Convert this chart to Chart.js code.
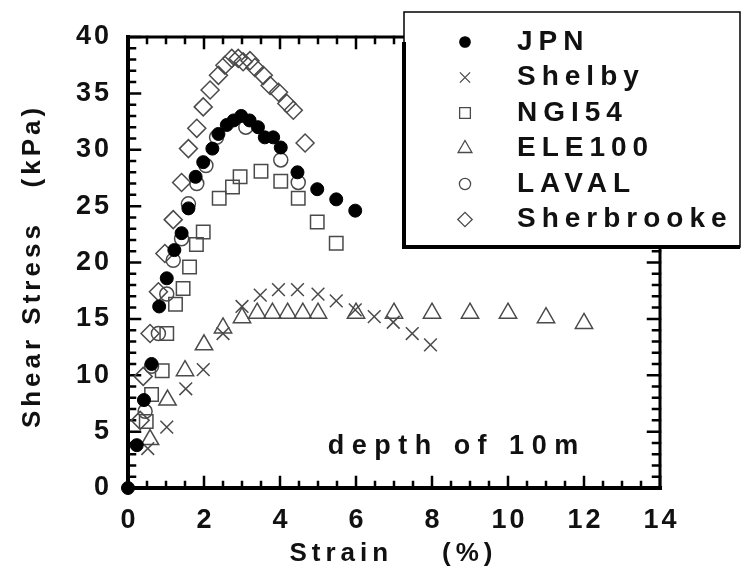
<!DOCTYPE html>
<html>
<head>
<meta charset="utf-8">
<script src="https://cdn.jsdelivr.net/npm/chart.js@4"></script>
<style>
  html, body { margin: 0; padding: 0; background: #fff; }
  #wrap { width: 742px; height: 575px; }
</style>
</head>
<body>
<div id="wrap"><canvas id="chart" width="742" height="575"></canvas></div>
<script>
// values (strain %, shear stress kPa)
const jpnStrain = [0, 0.23, 0.42, 0.62, 0.82, 1.02, 1.22, 1.41, 1.59, 1.78, 1.98, 2.22, 2.38, 2.6, 2.78, 2.98, 3.2, 3.42, 3.6, 3.82, 4.02, 4.46, 4.98, 5.48, 5.98];
const jpnStress = [0, 3.8, 7.8, 11.0, 16.1, 18.6, 21.1, 22.6, 24.8, 27.6, 28.9, 30.1, 31.4, 32.2, 32.6, 33.0, 32.6, 32.0, 31.1, 31.1, 30.2, 28.0, 26.5, 25.6, 24.6];

const shelbyStrain = [0.52, 1.02, 1.52, 1.98, 2.5, 3.0, 3.48, 3.96, 4.46, 5.0, 5.48, 5.98, 6.48, 6.98, 7.48, 7.96];
const shelbyStress = [3.5, 5.4, 8.8, 10.5, 13.7, 16.1, 17.1, 17.6, 17.6, 17.2, 16.6, 15.8, 15.2, 14.7, 13.7, 12.7];

const ngiStrain = [0.48, 0.62, 0.9, 1.02, 1.25, 1.45, 1.62, 1.8, 1.98, 2.4, 2.75, 2.95, 3.5, 4.02, 4.48, 4.98, 5.48];
const ngiStress = [5.9, 8.3, 10.4, 13.7, 16.3, 17.7, 19.6, 21.6, 22.7, 25.7, 26.7, 27.6, 28.1, 27.2, 25.7, 23.6, 21.7];

const eleStrain = [0.58, 1.04, 1.5, 2.0, 2.5, 3.0, 3.4, 3.8, 4.2, 4.6, 5.0, 6.0, 7.0, 8.0, 9.0, 10.0, 11.0, 12.0];
const eleStress = [4.3, 7.8, 10.4, 12.7, 14.2, 15.1, 15.5, 15.5, 15.5, 15.5, 15.5, 15.5, 15.5, 15.5, 15.5, 15.5, 15.1, 14.6];

const lavalStrain = [0.45, 0.62, 0.8, 1.02, 1.19, 1.41, 1.59, 1.81, 2.05, 2.33, 3.1, 4.02, 4.48];
const lavalStress = [6.8, 10.8, 13.7, 17.2, 20.2, 22.1, 25.2, 27.0, 28.6, 31.1, 32.0, 29.1, 27.1];

const sherStrain = [0.32, 0.4, 0.58, 0.8, 0.97, 1.19, 1.41, 1.59, 1.81, 1.98, 2.16, 2.38, 2.55, 2.73, 2.9, 3.03, 3.21, 3.34, 3.56, 3.74, 3.96, 4.18, 4.35, 4.66];
const sherStress = [6.0, 9.9, 13.7, 17.4, 20.8, 23.8, 27.1, 30.1, 31.9, 33.8, 35.3, 36.6, 37.5, 38.1, 38.1, 37.8, 37.9, 37.3, 36.6, 35.7, 35.1, 34.1, 33.5, 30.6];

const seriesNames = ['JPN', 'Shelby', 'NGI54', 'ELE100', 'LAVAL', 'Sherbrooke'];
const xTickLabels = ['0', '2', '4', '6', '8', '10', '12', '14'];
const yTickLabels = ['0', '5', '10', '15', '20', '25', '30', '35', '40'];

const FONT = "'Liberation Sans', 'DejaVu Sans', sans-serif";
const GREY = '#4a4a4a';

function pts(xs, ys) {
    return xs.map((x, i) => ({x: x, y: ys[i]}));
}

function spacedText(ctx, text, x, y, font, spacing, align) {
    ctx.save();
    ctx.font = font;
    ctx.letterSpacing = spacing + 'px';
    ctx.fillStyle = '#111';
    ctx.textBaseline = 'middle';
    let w = ctx.measureText(text).width - spacing;
    let sx = x;
    if (align === 'center') sx = x - w / 2;
    if (align === 'right') sx = x - w;
    ctx.textAlign = 'left';
    ctx.fillText(text, sx, y);
    ctx.restore();
}

// frame, inward ticks, tick labels and axis titles
const framePlugin = {
    id: 'frame',
    beforeDatasetsDraw(chart) {
        const ctx = chart.ctx;
        const a = chart.chartArea;
        const xs = chart.scales.x, ys = chart.scales.y;
        ctx.save();
        ctx.strokeStyle = '#000';
        ctx.lineCap = 'square';

        ctx.lineWidth = 2.5;
        for (let v = 0; v <= 14.001; v += 0.5) {
            const px = xs.getPixelForValue(v);
            const len = (Math.abs(v / 2 - Math.round(v / 2)) < 1e-6) ? 11 : 6;
            ctx.beginPath();
            ctx.moveTo(px, a.bottom); ctx.lineTo(px, a.bottom - len);
            ctx.moveTo(px, a.top); ctx.lineTo(px, a.top + len);
            ctx.stroke();
        }
        for (let v = 0; v <= 40.001; v += 1) {
            const py = ys.getPixelForValue(v);
            const len = (v % 5 === 0) ? 12 : 7;
            ctx.beginPath();
            ctx.moveTo(a.left, py); ctx.lineTo(a.left + len, py);
            ctx.moveTo(a.right, py); ctx.lineTo(a.right - len, py);
            ctx.stroke();
        }

        ctx.lineWidth = 3;
        ctx.beginPath();
        ctx.moveTo(a.left, a.top); ctx.lineTo(a.right, a.top);
        ctx.lineTo(a.right, a.bottom);
        ctx.stroke();
        ctx.lineWidth = 4;
        ctx.beginPath();
        ctx.moveTo(a.left, a.top); ctx.lineTo(a.left, a.bottom);
        ctx.lineTo(a.right, a.bottom);
        ctx.stroke();
        ctx.restore();

        const tickFont = 'bold 27px ' + FONT;
        xTickLabels.forEach(t => {
            spacedText(ctx, t, xs.getPixelForValue(Number(t)), a.bottom + 33, tickFont, 3, 'center');
        });
        yTickLabels.forEach(t => {
            spacedText(ctx, t, a.left - 19, ys.getPixelForValue(Number(t)), tickFont, 3, 'right');
        });

        const titleFont = 'bold 26px ' + FONT;
        spacedText(ctx, 'Strain    (%)', (a.left + a.right) / 2 - 3, a.bottom + 66, titleFont, 5, 'center');
        ctx.save();
        ctx.translate(33, 268);
        ctx.rotate(-Math.PI / 2);
        spacedText(ctx, 'Shear Stress   (kPa)', 0, 0, titleFont, 4, 'center');
        ctx.restore();

        spacedText(ctx, 'depth of 10m', xs.getPixelForValue(8.55), ys.getPixelForValue(3.7), 'bold 27px ' + FONT, 7.5, 'center');
    }
};

// boxed legend laid over the upper right corner of the plot
const legendPlugin = {
    id: 'boxLegend',
    afterDraw(chart) {
        const ctx = chart.ctx;
        const bx = 404, by = 12, bw = 336, bh = 235;
        ctx.save();
        ctx.fillStyle = '#fff';
        ctx.fillRect(bx, by, bw, bh);
        ctx.strokeStyle = '#000';
        ctx.lineWidth = 1.5;
        ctx.strokeRect(bx, by, bw, bh);
        ctx.lineWidth = 4;
        ctx.beginPath();
        ctx.moveTo(bx, by + 30); ctx.lineTo(bx, by + bh); ctx.lineTo(bx + bw, by + bh);
        ctx.stroke();
        chart.data.datasets.forEach((ds, i) => {
            const cy = by + 30 + i * 35.5;
            ctx.save();
            ctx.fillStyle = ds.backgroundColor;
            ctx.strokeStyle = ds.borderColor;
            ctx.lineWidth = 1.3;
            Chart.helpers.drawPoint(ctx, {
                pointStyle: ds.pointStyle,
                radius: ds.pointRadius * 0.8,
                borderWidth: 1.3,
                rotation: 0
            }, 465, cy);
            ctx.restore();
            spacedText(ctx, ds.label, 517, cy, 'bold 28px ' + FONT, 6, 'left');
        });
        ctx.restore();
    }
};

function dataset(label, xs, ys, style, radius, filled) {
    return {
        label: label,
        data: pts(xs, ys),
        pointStyle: style,
        pointRadius: radius,
        pointHoverRadius: radius,
        pointBorderWidth: filled ? 1 : 1.5,
        backgroundColor: filled ? '#000' : 'rgba(0,0,0,0)',
        borderColor: filled ? '#000' : GREY,
        showLine: false,
        clip: false
    };
}

new Chart(document.getElementById('chart'), {
    type: 'scatter',
    data: {
        datasets: [
            dataset(seriesNames[0], jpnStrain, jpnStress, 'circle', 6.5, true),
            dataset(seriesNames[1], shelbyStrain, shelbyStress, 'crossRot', 9, false),
            dataset(seriesNames[2], ngiStrain, ngiStress, 'rect', 9.5, false),
            dataset(seriesNames[3], eleStrain, eleStress, 'triangle', 10, false),
            dataset(seriesNames[4], lavalStrain, lavalStress, 'circle', 7, false),
            dataset(seriesNames[5], sherStrain, sherStress, 'rectRot', 9, false)
        ]
    },
    options: {
        responsive: false,
        animation: false,
        devicePixelRatio: 1,
        layout: {padding: {left: 128, right: 82, top: 37, bottom: 87}},
        plugins: {legend: {display: false}, tooltip: {enabled: false}},
        scales: {
            x: {type: 'linear', min: 0, max: 14, display: false},
            y: {type: 'linear', min: 0, max: 40, display: false}
        }
    },
    plugins: [framePlugin, legendPlugin]
});
</script>
</body>
</html>
